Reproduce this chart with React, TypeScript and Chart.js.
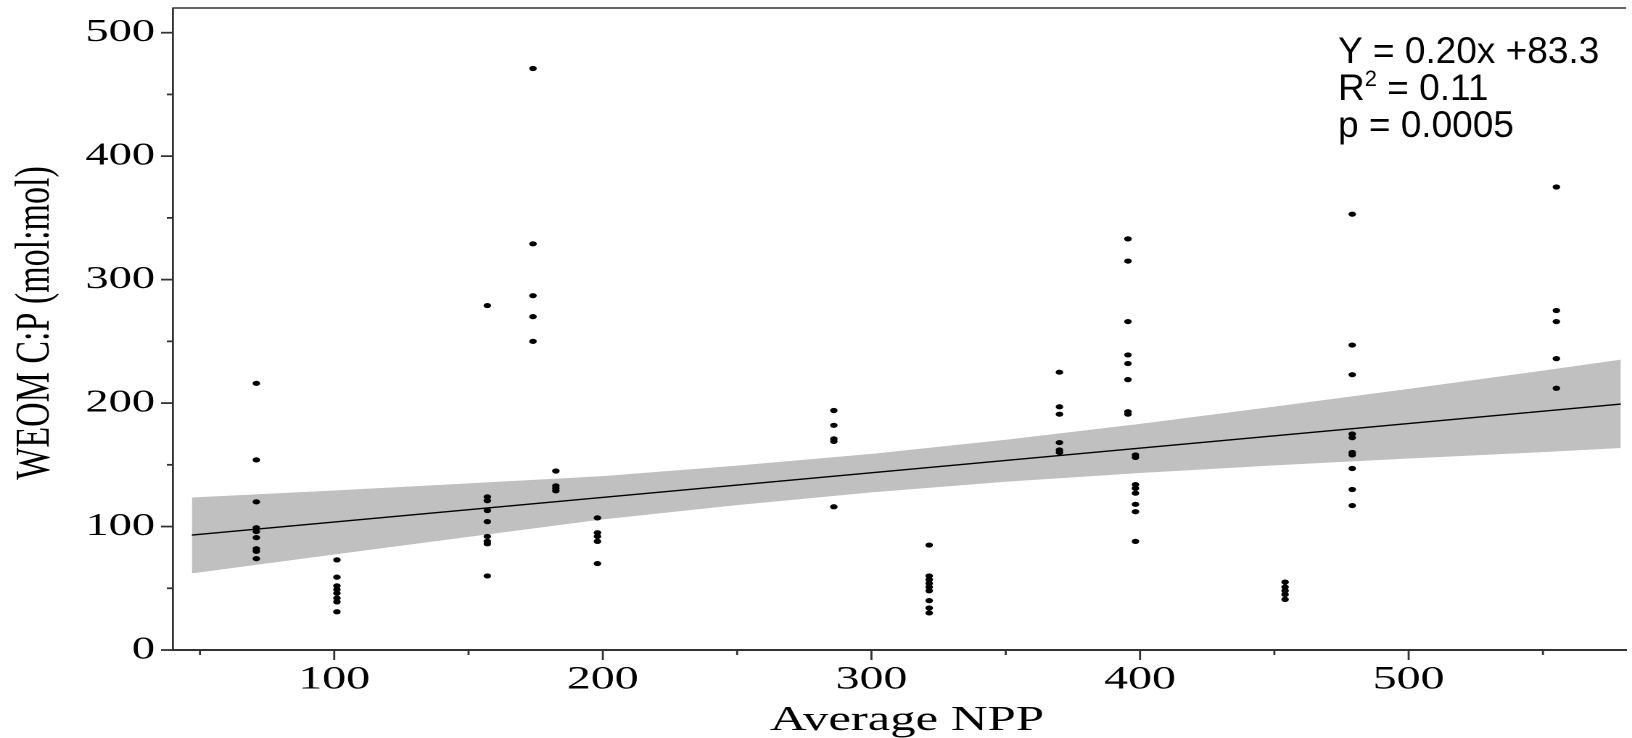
import { useEffect, useRef } from "react";
import { Chart, registerables } from "chart.js";

Chart.register(...registerables);

// ---------------- data ----------------
const SITE_NPP = [71, 101, 157, 174, 182.5, 198, 286, 321.5, 370, 395.5, 398.3, 454, 479, 555];
const CP_BY_SITE = [
  [216, 154, 120, 99, 96, 91, 82, 80, 74],
  [73, 59, 52, 49, 46, 42, 39, 31],
  [279, 124, 121, 113, 104, 92, 88, 86, 60],
  [471, 329, 287, 270, 250],
  [145, 133, 131, 129],
  [107, 95, 92, 88, 70],
  [194, 182, 171, 169, 116],
  [85, 60, 57, 54, 51, 48, 40, 34, 30],
  [225, 197, 191, 168, 162, 160],
  [333, 315, 266, 239, 232, 219, 193, 191],
  [158, 156, 134, 131, 127, 118, 112, 88],
  [55, 51, 48, 45, 41],
  [353, 247, 223, 175, 172, 160, 158, 147, 130, 117],
  [375, 275, 266, 236, 212],
];

const FIT_NPP = [47, 579];
const FIT_CP = [93.1, 199.2];

const BAND_NPP = [47, 100, 150, 200, 250, 300, 350, 400, 450, 500, 550, 579];
const BAND_UPPER = [123.5, 129.2, 135.0, 140.8, 149.3, 158.9, 170.3, 183.2, 197.1, 211.5, 226.3, 235.2];
const BAND_LOWER = [62.1, 77.4, 91.6, 105.8, 117.3, 127.7, 136.3, 143.4, 149.5, 155.1, 160.3, 163.6];

const X_TICKS = [50, 100, 150, 200, 250, 300, 350, 400, 450, 500, 550];
const Y_TICKS = [0, 50, 100, 150, 200, 250, 300, 350, 400, 450, 500];

const X_TITLE = "Average NPP";
const Y_TITLE = "WEOM C:P (mol:mol)";
const EQ_LINE = "Y = 0.20x +83.3";
const R2_LABEL = "R";
const R2_SUP = "2";
const R2_VALUE = " = 0.11";
const P_LINE = "p = 0.0005";

// ---------------- layout / style ----------------
const W = 1632;
const H = 738;
const IW = 1125; // internal canvas width, stretched horizontally to W
const S = W / IW;
const AXIS = "#333333";
const TEXT = "#000000";
const SERIF = '"Liberation Serif", "Times New Roman", serif';
const SANS = '"Liberation Sans", Arial, sans-serif';

const decorPlugin = {
  id: "decor",
  afterDraw(chart: any) {
    const ctx = chart.ctx as CanvasRenderingContext2D;
    const { left, right, top, bottom } = chart.chartArea;
    const xs = chart.scales.x;
    const ys = chart.scales.y;
    ctx.save();
    ctx.strokeStyle = AXIS;
    // top frame line
    ctx.lineWidth = 1.6;
    ctx.beginPath();
    ctx.moveTo(left, top);
    ctx.lineTo(right, top);
    ctx.stroke();
    // x tick marks
    ctx.lineWidth = 1.4;
    xs.ticks.forEach((t: any) => {
      const px = xs.getPixelForValue(t.value);
      const len = t.value % 100 === 0 ? 10 : 5;
      ctx.beginPath();
      ctx.moveTo(px, bottom);
      ctx.lineTo(px, bottom + len);
      ctx.stroke();
    });
    // y tick marks
    ctx.lineWidth = 1.8;
    ys.ticks.forEach((t: any) => {
      const py = ys.getPixelForValue(t.value);
      const len = t.value % 100 === 0 ? 8.3 : 4.3;
      ctx.beginPath();
      ctx.moveTo(left - len, py);
      ctx.lineTo(left, py);
      ctx.stroke();
    });
    ctx.restore();

    // axis titles (stretched with the canvas)
    ctx.save();
    ctx.fillStyle = TEXT;
    ctx.font = `35px ${SERIF}`;
    ctx.textAlign = "center";
    ctx.textBaseline = "alphabetic";
    ctx.fillText(X_TITLE, 907 / S, 730);
    ctx.translate(35.5 / S, 323);
    ctx.rotate(-Math.PI / 2);
    ctx.font = `34px ${SERIF}`;
    ctx.textBaseline = "middle";
    ctx.fillText(Y_TITLE, 0, 0);
    ctx.restore();

    // unstretched annotation
    ctx.save();
    ctx.scale(1 / S, 1);
    ctx.fillStyle = TEXT;
    ctx.textAlign = "left";
    ctx.textBaseline = "alphabetic";
    const ax = 1338;
    ctx.font = `37px ${SANS}`;
    ctx.fillText(EQ_LINE, ax, 63);
    ctx.fillText(R2_LABEL, ax, 100);
    const rw = ctx.measureText(R2_LABEL).width;
    ctx.font = `22px ${SANS}`;
    ctx.fillText(R2_SUP, ax + rw, 86);
    const sw = ctx.measureText(R2_SUP).width;
    ctx.font = `37px ${SANS}`;
    ctx.fillText(R2_VALUE, ax + rw + sw, 100);
    ctx.fillText(P_LINE, ax, 137);
    ctx.restore();
  },
};

function buildConfig(): any {
  const points: { x: number; y: number }[] = [];
  SITE_NPP.forEach((x, i) => CP_BY_SITE[i].forEach((y) => points.push({ x, y })));
  const fit = FIT_NPP.map((x, i) => ({ x, y: FIT_CP[i] }));
  const upper = BAND_NPP.map((x, i) => ({ x, y: BAND_UPPER[i] }));
  const lower = BAND_NPP.map((x, i) => ({ x, y: BAND_LOWER[i] }));

  return {
    type: "scatter",
    data: {
      datasets: [
        {
          type: "scatter",
          data: points,
          pointRadius: 2.6,
          pointBackgroundColor: "#000",
          pointBorderWidth: 0,
          order: 0,
        },
        {
          type: "line",
          data: fit,
          borderColor: "#000",
          borderWidth: 1.4,
          pointRadius: 0,
          fill: false,
          tension: 0,
          order: 1,
        },
        {
          type: "line",
          data: upper,
          borderColor: "rgba(0,0,0,0)",
          borderWidth: 0,
          pointRadius: 0,
          backgroundColor: "#c0c0c0",
          fill: "+1",
          tension: 0,
          order: 2,
        },
        {
          type: "line",
          data: lower,
          borderColor: "rgba(0,0,0,0)",
          borderWidth: 0,
          pointRadius: 0,
          fill: false,
          tension: 0,
          order: 3,
        },
      ],
    },
    options: {
      animation: false,
      responsive: false,
      devicePixelRatio: 2,
      events: [],
      layout: { padding: { top: 8, left: 0, right: 0, bottom: 0 } },
      plugins: { legend: { display: false }, tooltip: { enabled: false } },
      scales: {
        x: {
          type: "linear",
          min: 40,
          max: 581,
          grid: { display: false, drawTicks: false },
          border: { display: true, color: AXIS, width: 2 },
          afterBuildTicks: (scale: any) => {
            scale.ticks = X_TICKS.map((v) => ({ value: v }));
          },
          afterFit: (scale: any) => {
            scale.height = 88;
            scale.paddingLeft = 0;
            scale.paddingRight = 0;
          },
          ticks: {
            autoSkip: false,
            maxRotation: 0,
            padding: 13.4,
            color: TEXT,
            font: { family: SERIF, size: 33, lineHeight: 1 },
            callback: (v: any) => (Number(v) % 100 === 0 ? String(v) : ""),
          },
          title: { display: false },
        },
        y: {
          type: "linear",
          min: 0,
          max: 520,
          grid: { display: false, drawTicks: false },
          border: { display: true, color: AXIS, width: 1.4 },
          afterBuildTicks: (scale: any) => {
            scale.ticks = Y_TICKS.map((v) => ({ value: v }));
          },
          afterFit: (scale: any) => {
            scale.width = 119.3;
            scale.paddingTop = 0;
            scale.paddingBottom = 0;
          },
          ticks: {
            autoSkip: false,
            padding: 12.4,
            color: TEXT,
            font: { family: SERIF, size: 32, lineHeight: 1 },
            callback: (v: any) => (Number(v) % 100 === 0 ? String(v) : ""),
          },
          title: { display: false },
        },
      },
    },
    plugins: [decorPlugin],
  };
}

export default function App() {
  const ref = useRef<HTMLCanvasElement>(null);
  useEffect(() => {
    if (!ref.current) return;
    const chart = new Chart(ref.current, buildConfig());
    return () => chart.destroy();
  }, []);
  return (
    <div style={{ position: "fixed", left: 0, top: 0, width: W, height: H, background: "#fff" }}>
      <canvas
        ref={ref}
        width={IW}
        height={H}
        style={{ width: `${W}px`, height: `${H}px`, display: "block" }}
      />
    </div>
  );
}
